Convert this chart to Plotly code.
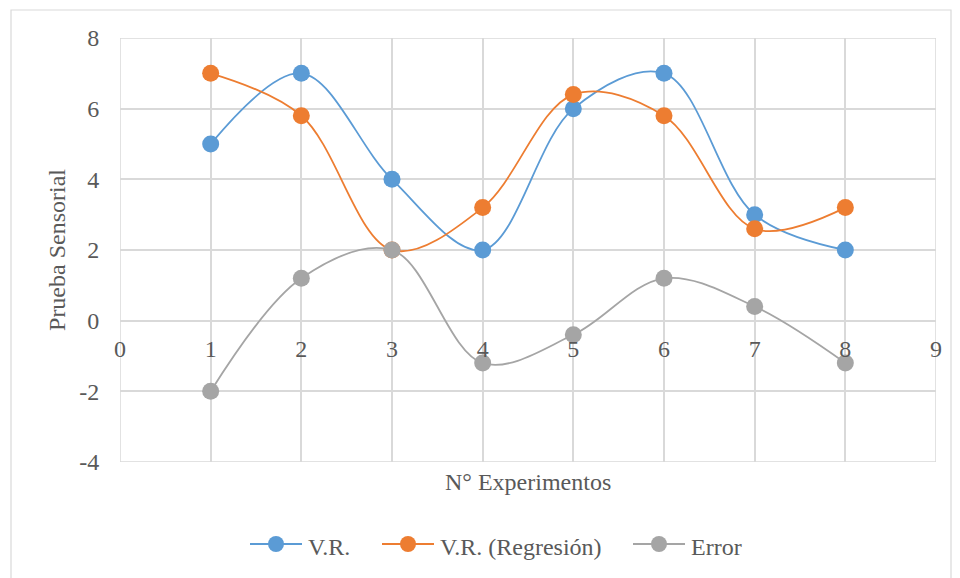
import plotly.graph_objects as go

experimentos = [1, 2, 3, 4, 5, 6, 7, 8]
vr = [5, 7, 4, 2, 6, 7, 3, 2]
vr_regresion = [7, 5.8, 2.0, 3.2, 6.4, 5.8, 2.6, 3.2]
error = [-2, 1.2, 2.0, -1.2, -0.4, 1.2, 0.4, -1.2]

x_ticks = [0, 1, 2, 3, 4, 5, 6, 7, 8, 9]
y_ticks = [-4, -2, 0, 2, 4, 6, 8]

series_names = ["V.R.", "V.R. (Regresión)", "Error"]
series_colors = ["#5B9BD5", "#ED7D31", "#A5A5A5"]
series_values = [vr, vr_regresion, error]

FONT = "'Liberation Serif', 'Times New Roman', 'DejaVu Serif', serif"
TXT = "#595959"
GRID = "#d9d9d9"

OFF = 8  # page body margin
W, H = 960 - OFF, 578 - OFF
L, T = 120 - OFF, 38 - OFF
R = W - (936 - OFF)
B = H - (462 - OFF)
pw, ph = W - L - R, H - T - B


def py(page_y):
    """page pixel y -> paper fraction"""
    return ((H - B) - (page_y - OFF)) / ph


def px(page_x):
    return ((page_x - OFF) - L) / pw


fig = go.Figure()
for name, vals, col in zip(series_names, series_values, series_colors):
    fig.add_trace(go.Scatter(
        x=experimentos, y=vals, name=name, mode="lines+markers",
        line=dict(color=col, width=1.8, shape="spline", smoothing=1.0),
        marker=dict(color=col, size=17, line=dict(width=0)),
        showlegend=False,
    ))

fig.update_layout(
    width=W, height=H,
    margin=dict(l=L, r=R, t=T, b=B),
    paper_bgcolor="white", plot_bgcolor="white",
    font=dict(family=FONT, size=24, color=TXT),
    showlegend=False,
    xaxis=dict(range=[0, 9], tickvals=x_ticks, ticktext=[str(v) for v in x_ticks],
               showgrid=True, gridcolor=GRID, gridwidth=1.5,
               zeroline=False, showline=False,
               anchor="free", position=4 / 12,
               ticks="outside", ticklen=0, tickcolor="rgba(0,0,0,0)",
               ticklabelstandoff=7,
               tickfont=dict(family=FONT, size=24, color=TXT)),
    yaxis=dict(range=[-4, 8], tickvals=y_ticks, ticktext=[str(v) for v in y_ticks],
               showgrid=True, gridcolor=GRID, gridwidth=1.5,
               zeroline=True, zerolinecolor=GRID, zerolinewidth=1.5,
               showline=False,
               ticks="outside", ticklen=0, tickcolor="rgba(0,0,0,0)",
               ticklabelstandoff=15,
               tickfont=dict(family=FONT, size=24, color=TXT),
               title=dict(text="Prueba Sensorial", standoff=6,
                          font=dict(family=FONT, size=24, color=TXT))),
)

# plot-area border
fig.add_shape(type="rect", xref="x", yref="y", x0=0, x1=9, y0=-4, y1=8,
              line=dict(color=GRID, width=1.5), layer="below")
# outer chart border
fig.add_shape(type="rect", xref="paper", yref="paper",
              x0=px(11), x1=px(951), y0=py(600), y1=py(10),
              line=dict(color=GRID, width=1.2), layer="below")

fig.add_annotation(text="N° Experimentos", xref="paper", yref="paper",
                   x=0.5, y=py(482), xanchor="center", yanchor="middle",
                   showarrow=False, font=dict(family=FONT, size=24, color=TXT))

# legend drawn Excel-style: long line through marker, then label
legend_line_centers = [276, 408, 659]  # page px
LEG_Y = 544
for cx, name, col in zip(legend_line_centers, series_names, series_colors):
    fig.add_shape(type="line", xref="paper", yref="paper",
                  xsizemode="pixel", ysizemode="pixel",
                  xanchor=px(cx), yanchor=py(LEG_Y),
                  x0=-26, x1=26, y0=0, y1=0,
                  line=dict(color=col, width=2))
    fig.add_shape(type="circle", xref="paper", yref="paper",
                  xsizemode="pixel", ysizemode="pixel",
                  xanchor=px(cx), yanchor=py(LEG_Y),
                  x0=-8, x1=8, y0=-8, y1=8,
                  fillcolor=col, line=dict(width=0))
    fig.add_annotation(text=name, xref="paper", yref="paper",
                       x=px(cx + 30), y=py(LEG_Y + 3), xanchor="left", yanchor="middle",
                       showarrow=False, font=dict(family=FONT, size=24, color=TXT))

fig.write_html("out.html")
